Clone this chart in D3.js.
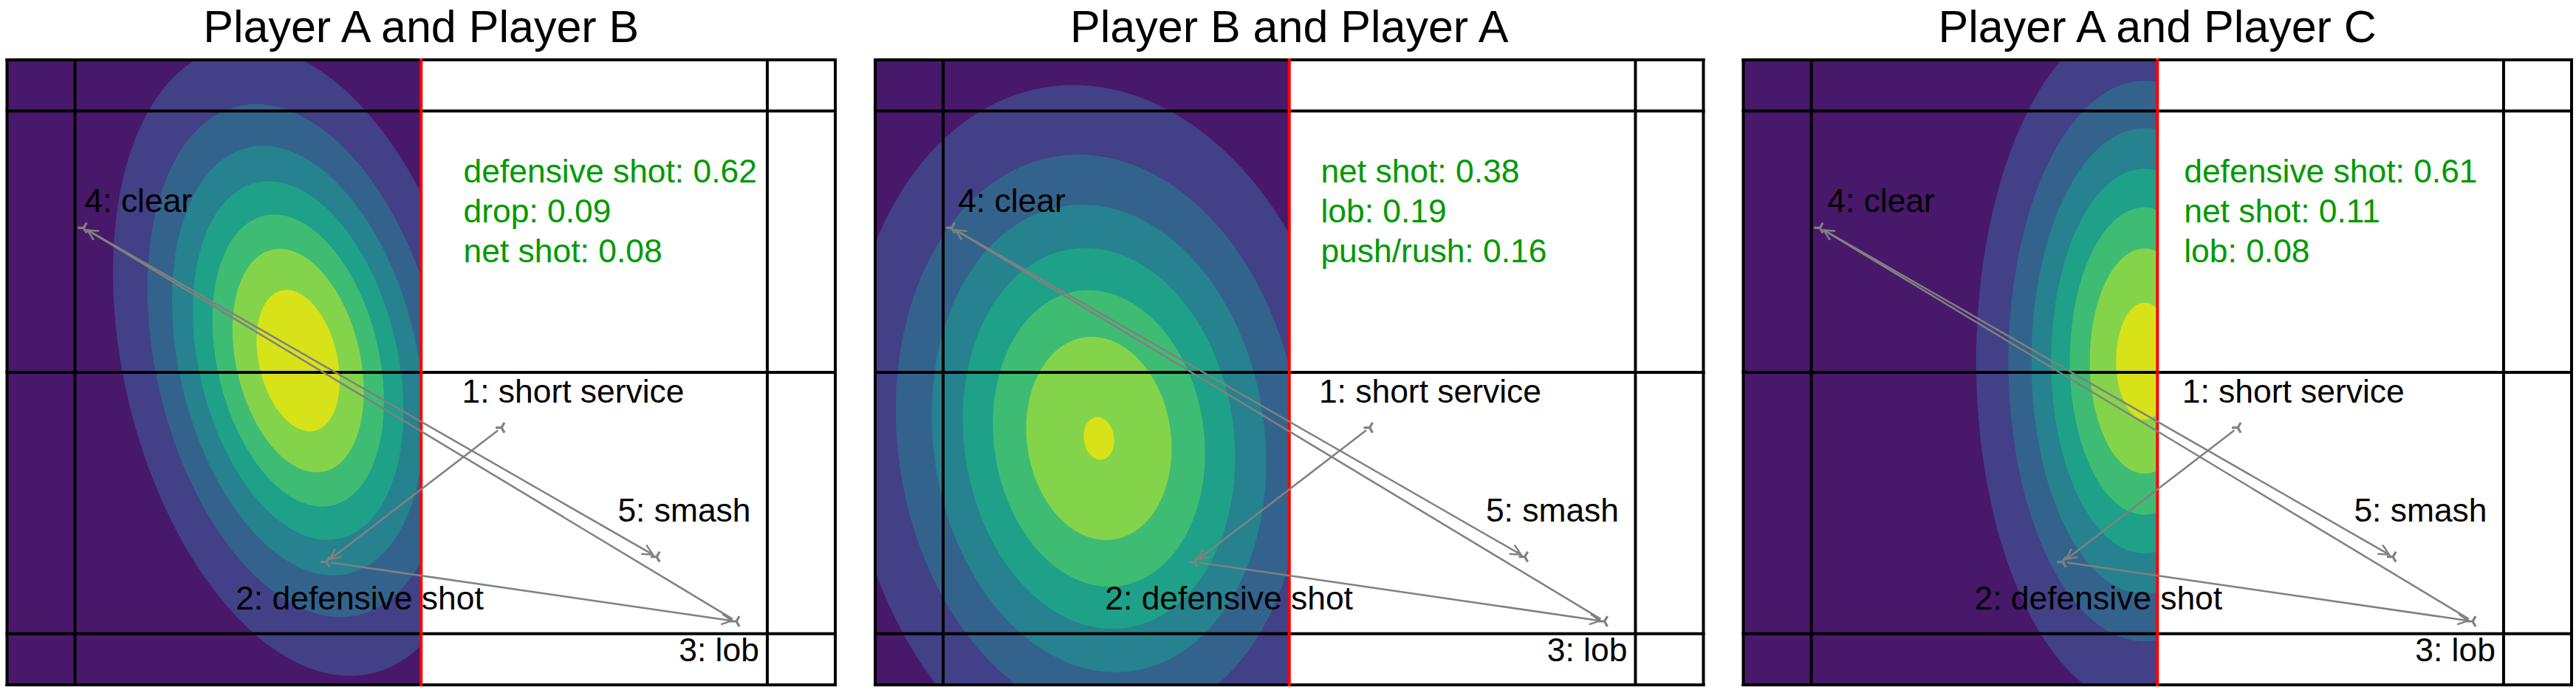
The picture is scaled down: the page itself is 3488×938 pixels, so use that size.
<!DOCTYPE html>
<html>
<head>
<meta charset="utf-8">
<script src="https://cdn.jsdelivr.net/npm/d3@7"></script>
<style>
  body { margin: 0; background: #fff; }
  text { font-family: "Liberation Sans", Arial, sans-serif; }
</style>
</head>
<body>
<svg id="chart" width="3488" height="938"></svg>
<script>
// court (metres)
var courtLength = 13.4, courtWidth = 6.1, netX = 6.7;
var courtXLines = [0, 1.1, 12.3, 13.4];
var courtYLines = [0, 0.5, 3.05, 5.6, 6.1];

// the rally: shot types and where each one landed
var shotNames = ["short service", "defensive shot", "lob", "clear", "smash"];
var landX = [8.0, 5.17, 11.80, 1.24, 10.51];
var landY = [3.59, 4.90, 5.48, 1.64, 4.85];

// one entry per panel
var panelTitles = ["Player A and Player B", "Player B and Player A", "Player A and Player C"];
var predTypes = [["defensive shot", "drop", "net shot"],
                 ["net shot", "lob", "push/rush"],
                 ["defensive shot", "net shot", "lob"]];
var predProbs = [[0.62, 0.09, 0.08],
                 [0.38, 0.19, 0.16],
                 [0.61, 0.11, 0.08]];

// predicted landing distribution (bivariate normal) per panel
var muX = [4.71, 3.62, 6.49];
var muY = [2.935, 3.695, 2.94];
var sdX = [1.48, 2.07, 1.36];
var sdY = [1.52, 1.745, 1.69];
var rho = [0.28, 0.10, 0.0];
var peakOverStep = [7.76, 7.05, 7.41];   // peak density / contour step

// label anchors (metres), one row per panel
var labelX = [[7.36, 3.70, 10.87, 1.255, 9.88],
              [7.18, 3.72, 10.87, 1.34, 9.88],
              [7.10, 3.74, 10.87, 1.36, 9.88]];
var labelY = [3.346, 5.364, 5.869, 1.485, 4.506];
var predX = [7.385, 7.21, 7.13], predY = 1.199;

var svg = d3.select("#chart");
var plotW = 1121.5, plotH = 846, plotTop = 81;
var nBands = 8;

panelTitles.forEach(function(title, p) {
  var left = 9.5 + p * 1175.5;
  var g = svg.append("g").attr("transform", "translate(" + left + ",0)");

  var x = d3.scaleLinear().domain([0, courtLength]).range([0, plotW]);
  var y = d3.scaleLinear().domain([0, courtWidth]).range([plotTop, plotTop + plotH]);

  // title
  g.append("text")
    .attr("x", x(courtLength / 2))
    .attr("y", 57)
    .attr("text-anchor", "middle")
    .style("font-size", "61px")
    .text(title);

  // lowest band fills our half
  g.append("rect")
    .attr("x", x(0)).attr("y", y(0))
    .attr("width", x(netX) - x(0)).attr("height", y(courtWidth) - y(0))
    .attr("fill", d3.interpolateViridis(0.5 / nBands));

  // density grid over our half of the court
  var nx = 281, ny = 423;
  var values = new Float64Array(nx * ny);
  var r = rho[p];
  for (var j = 0; j < ny; j++) {
    for (var i = 0; i < nx; i++) {
      var mx = (i + 0.5) / nx * netX, my = (j + 0.5) / ny * courtWidth;
      var zx = (mx - muX[p]) / sdX[p], zy = (my - muY[p]) / sdY[p];
      var q = (zx * zx - 2 * r * zx * zy + zy * zy) / (1 - r * r);
      values[j * nx + i] = Math.exp(-q / 2);
    }
  }
  var levels = d3.range(1, nBands).map(function(k) { return k / peakOverStep[p]; });
  var contours = d3.contours().size([nx, ny]).thresholds(levels)(values);
  var toCourt = d3.geoTransform({
    point: function(px, py) {
      this.stream.point(x(px / nx * netX), y(py / ny * courtWidth));
    }
  });
  g.append("g").selectAll("path")
    .data(contours)
    .enter().append("path")
      .attr("d", d3.geoPath(toCourt))
      .attr("fill", function(d, k) { return d3.interpolateViridis((k + 1.5) / nBands); });

  // court lines
  g.append("g").selectAll("line")
    .data(courtXLines)
    .enter().append("line")
      .attr("x1", function(d) { return x(d); }).attr("x2", function(d) { return x(d); })
      .attr("y1", y(0)).attr("y2", y(courtWidth))
      .attr("stroke", "#000").attr("stroke-width", 4).attr("stroke-linecap", "square");
  g.append("g").selectAll("line")
    .data(courtYLines)
    .enter().append("line")
      .attr("x1", x(0)).attr("x2", x(courtLength))
      .attr("y1", function(d) { return y(d); }).attr("y2", function(d) { return y(d); })
      .attr("stroke", "#000").attr("stroke-width", 4).attr("stroke-linecap", "square");
  g.append("line")
    .attr("x1", x(netX)).attr("x2", x(netX))
    .attr("y1", y(0) - 2).attr("y2", y(courtWidth) + 2)
    .attr("stroke", "#ff0000").attr("stroke-width", 4);

  // arrows between consecutive landing points
  var pts = landX.map(function(d, i) { return [x(d), y(landY[i])]; });
  var arrows = g.append("g").attr("stroke", "#808080").attr("fill", "none");
  d3.range(pts.length - 1).forEach(function(s) {
    var a = pts[s], b = pts[s + 1];
    var dx = b[0] - a[0], dy = b[1] - a[1], len = Math.sqrt(dx * dx + dy * dy);
    var ux = dx / len, uy = dy / len, shrink = 6;
    var sx = a[0] + ux * shrink, sy = a[1] + uy * shrink;
    var tx = b[0] - ux * shrink, ty = b[1] - uy * shrink;
    arrows.append("line")
      .attr("x1", sx).attr("y1", sy).attr("x2", tx).attr("y2", ty)
      .attr("stroke-width", 2.5);
    var hl = 14, hw = 7;
    var bx = tx - ux * hl, by = ty - uy * hl;
    arrows.append("path")
      .attr("d", "M" + (bx - uy * hw) + "," + (by + ux * hw) +
                 "L" + tx + "," + ty +
                 "L" + (bx + uy * hw) + "," + (by - ux * hw))
      .attr("stroke-width", 2.5);
  });

  // tri markers at each landing point
  g.append("g").selectAll("path")
    .data(pts)
    .enter().append("path")
      .attr("transform", function(d) { return "translate(" + d[0] + "," + d[1] + ")"; })
      .attr("d", "M-8,0L0,0M4,-6.93L0,0L4,6.93")
      .attr("stroke", "#808080").attr("stroke-width", 3.2).attr("fill", "none");

  // shot labels
  g.append("g").selectAll("text")
    .data(shotNames)
    .enter().append("text")
      .attr("x", function(d, i) { return x(labelX[p][i]); })
      .attr("y", function(d, i) { return y(labelY[i]); })
      .style("font-size", "44.4px")
      .attr("fill", "#000")
      .text(function(d, i) { return (i + 1) + ": " + d; });

  // top-3 predicted shot types
  g.append("g").selectAll("text")
    .data(predTypes[p])
    .enter().append("text")
      .attr("x", x(predX[p]))
      .attr("y", function(d, i) { return y(predY) + i * 54; })
      .style("font-size", "44.4px")
      .attr("fill", "#009900")
      .text(function(d, i) { return d + ": " + predProbs[p][i].toFixed(2); });
});
</script>
</body>
</html>
